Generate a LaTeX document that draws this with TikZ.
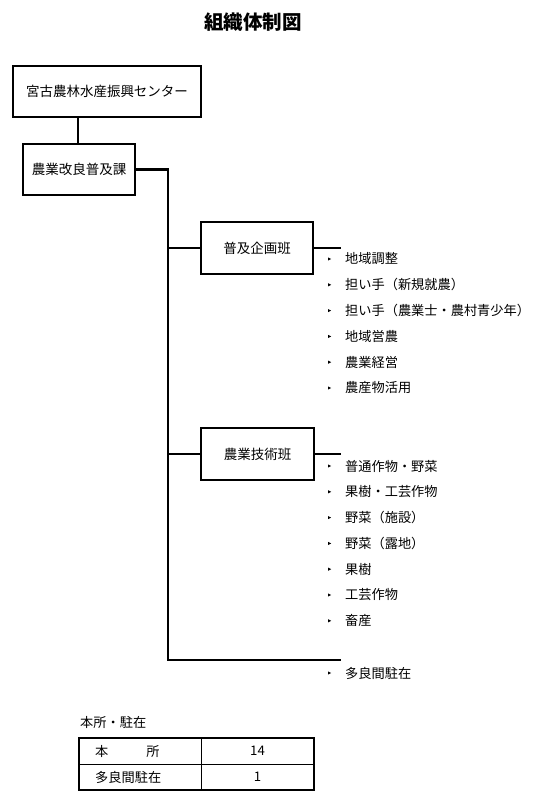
\documentclass[tikz,border=0pt]{standalone}
\usepackage{fontspec}
\setmainfont{Noto Sans CJK JP}
\begin{document}
\begin{tikzpicture}[x=1pt,y=-1pt,
    unitbox/.style={draw, line width=1.6pt, inner sep=0pt, font=\fontsize{13.5}{15}\selectfont},
    link/.style={line width=2.4pt},
    entry/.style={anchor=west, inner sep=0pt, font=\fontsize{13.2}{15}\selectfont},
    cell/.style={inner sep=0pt, font=\fontsize{13.2}{15}\selectfont}]
    \useasboundingbox (0,0) rectangle (552,801);

    \node[font=\fontsize{19.5}{21}\selectfont\bfseries] (title) at (253,22) {組織体制図};

    \node[unitbox, minimum width=188pt, minimum height=51pt] (center) at (107,91.5) {宮古農林水産振興センター};
    \node[unitbox, minimum width=112pt, minimum height=51pt] (kacho) at (79,169.5) {農業改良普及課};
    \node[unitbox, minimum width=112pt, minimum height=52pt] (kikaku) at (257,248) {普及企画班};
    \node[unitbox, minimum width=113pt, minimum height=52pt] (gijutsu) at (257.5,454) {農業技術班};

    \coordinate (trunk) at (168,169.5);
    \coordinate (bottom) at (168,660);
    \coordinate (tail) at (341,660);

    \draw[link] (center.south -| 78,0) -- (kacho.north -| 78,0);
    \draw[link] (kacho.east) -- (trunk) -- (bottom) -- (tail);
    \draw[link] (trunk |- kikaku.west) -- (kikaku.west);
    \draw[link] (kikaku.east) -- (kikaku.east -| tail);
    \draw[link] (trunk |- gijutsu.west) -- (gijutsu.west);
    \draw[link] (gijutsu.east) -- (gijutsu.east -| tail);

    % kakari
    \foreach \t [count=\i] in {地域調整, 担い手（新規就農）, 担い手（農業士・農村青少年）, 地域営農, 農業経営, 農産物活用} {
        \node[entry] (k\i) at (345, 259+25.8*\i-25.8) {\t};
        \fill ([xshift=-17pt]k\i.west) ++(0,-1.6) -- ++(3.2,1.6) -- ++(-3.2,1.6) -- cycle;
    }
    \foreach \t [count=\i] in {普通作物・野菜, 果樹・工芸作物, 野菜（施設）, 野菜（露地）, 果樹, 工芸作物, 畜産} {
        \node[entry] (g\i) at (345, 466+25.8*\i-25.8) {\t};
        \fill ([xshift=-17pt]g\i.west) ++(0,-1.6) -- ++(3.2,1.6) -- ++(-3.2,1.6) -- cycle;
    }
    \node[entry] (tarama) at (345,673) {多良間駐在};
    \fill ([xshift=-17pt]tarama.west) ++(0,-1.6) -- ++(3.2,1.6) -- ++(-3.2,1.6) -- cycle;

    % table
    \node[entry] (caption) at (80,722) {本所・駐在};
    \draw[line width=0.8pt] (79,764) -- (314,764);
    \draw[line width=0.8pt] (201,738) -- (201,790);
    \draw[line width=1.6pt] (79,738) rectangle (314,790);
    \node[entry] (honsho) at (95,751) {本\hspace{38pt}所};
    \node[cell] (nhonsho) at (257.5,751) {14};
    \node[entry] (chuzai) at (95,777) {多良間駐在};
    \node[cell] (nchuzai) at (257.5,777) {1};
\end{tikzpicture}
\end{document}
